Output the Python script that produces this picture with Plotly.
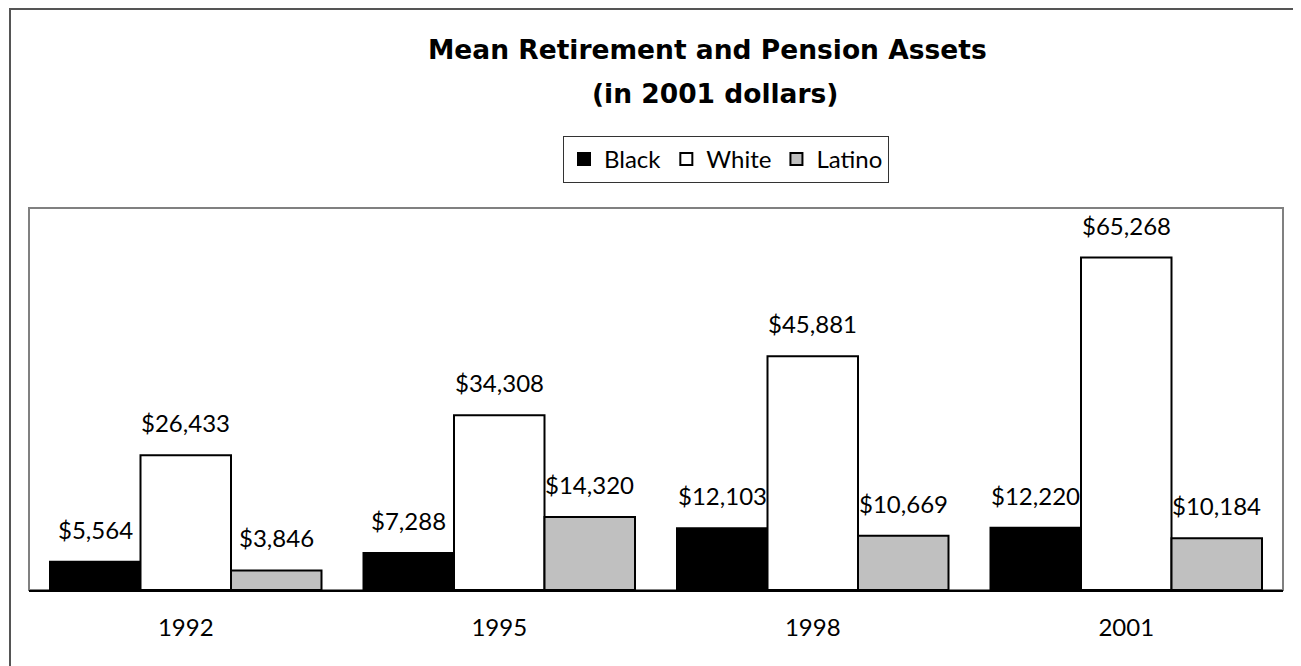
import plotly.graph_objects as go

years = ["1992", "1995", "1998", "2001"]
black = [5564, 7288, 12103, 12220]
white = [26433, 34308, 45881, 65268]
latino = [3846, 14320, 10669, 10184]

series_names = ["Black", "White", "Latino"]
series_values = [black, white, latino]
series_colors = ["#000000", "#ffffff", "#c0c0c0"]

FONT = "Lato, 'Open Sans', sans-serif"
TITLE_FONT = "'DejaVu Sans', sans-serif"

W, H = 1293, 658
L, R, T, B = 21, 18, 200, 76
pw, ph = W - L - R, H - T - B
BARGAP = 0.134


def px_x(p):
    return (p - L) / pw


def px_y(p):
    return (H - B - p) / ph


fig = go.Figure()
for name, vals, col in zip(series_names, series_values, series_colors):
    fig.add_trace(go.Bar(
        name=name, x=years, y=vals,
        marker=dict(color=col, line=dict(color="#000000", width=2)),
        hoverinfo="x+y",
    ))

# data labels, placed over each bar (category index + pixel offset of the bar in its group)
cat_w = pw / len(years)
bar_w = cat_w * (1 - BARGAP) / len(series_names)
annotations = []
for i, vals in enumerate(series_values):
    off = (i - (len(series_names) - 1) / 2) * bar_w
    for j, v in enumerate(vals):
        annotations.append(dict(
            x=j, y=v, xref="x", yref="y", text=f"${v:,}", showarrow=False,
            xshift=off, yshift=16, yanchor="bottom", xanchor="center",
            font=dict(family=FONT, size=24, color="#000000"),
        ))

# title (two lines)
annotations.append(dict(
    text="<b>Mean Retirement and Pension Assets</b>", xref="paper", yref="paper",
    x=px_x(699), y=px_y(42), xanchor="center", yanchor="middle", showarrow=False,
    font=dict(family=TITLE_FONT, size=26.5, color="#000000"),
))
annotations.append(dict(
    text="<b>(in 2001 dollars)</b>", xref="paper", yref="paper",
    x=px_x(707), y=px_y(85), xanchor="center", yanchor="middle", showarrow=False,
    font=dict(family=TITLE_FONT, size=26.5, color="#000000"),
))

fig.update_layout(
    width=W, height=H,
    margin=dict(l=L, r=R, t=T, b=B),
    paper_bgcolor="white", plot_bgcolor="white",
    barmode="group", bargap=BARGAP, bargroupgap=0,
    font=dict(family=FONT, size=24, color="#000000"),
    showlegend=True,
    legend=dict(
        orientation="h", x=px_x(718), xanchor="center", y=px_y(128), yanchor="top",
        bordercolor="#333333", borderwidth=1, bgcolor="white",
        font=dict(family=FONT, size=24, color="#000000"),
        traceorder="normal", itemwidth=30,
    ),
    xaxis=dict(
        type="category", range=[-0.5, len(years) - 0.5],
        showline=True, linecolor="#000000", linewidth=2,
        ticks="", showgrid=False, zeroline=False,
        tickfont=dict(family=FONT, size=24, color="#000000"),
        ticklabelstandoff=15,
    ),
    yaxis=dict(
        range=[0, 75000], showticklabels=False, showgrid=False,
        zeroline=False, showline=False, ticks="",
    ),
    annotations=annotations,
    shapes=[
        dict(type="rect", xref="paper", yref="paper", x0=0, x1=1, y0=0, y1=1,
             line=dict(color="#808080", width=2), layer="below"),
        dict(type="rect", xref="paper", yref="paper",
             x0=px_x(2), x1=px_x(1310), y0=px_y(1), y1=px_y(680),
             line=dict(color="#555555", width=2), layer="below"),
    ],
)

fig.write_html("out.html")
